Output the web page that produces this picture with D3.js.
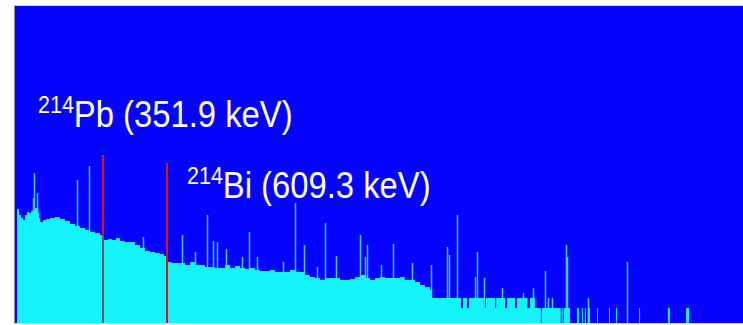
<!DOCTYPE html>
<html>
<head>
<meta charset="utf-8">
<script src="https://cdn.jsdelivr.net/npm/d3@7"></script>
<style>
  body { margin: 0; background: #fff; }
  svg { display: block; }
</style>
</head>
<body>
<svg id="chart"></svg>
<script>
// continuum of the gamma spectrum (keV, counts, drawn as steps)
var contKeV = [6, 14, 22, 30, 38, 46, 54, 62, 70, 78, 87, 91, 95, 99, 111, 123, 139, 159, 179, 199,
  219, 239, 259, 280, 300, 320, 340, 348, 356, 372, 388, 404, 420, 440, 461, 481, 501, 521, 541, 561,
  581, 597, 613, 629, 645, 662, 682, 702, 722, 742, 762, 782, 802, 822, 843, 863, 883, 903, 923, 943,
  963, 983, 1003, 1024, 1044, 1064, 1084, 1104, 1124, 1144, 1164, 1184, 1204, 1225, 1245, 1265, 1285, 1305, 1325, 1345,
  1365, 1385, 1406, 1426, 1446, 1466, 1486, 1506, 1526, 1546, 1566, 1587, 1607, 1627, 1647, 1667, 1675, 1792, 1800, 1816,
  1824, 1884, 1892, 1929, 1933, 1969, 1977, 2009, 2017, 2059, 2069, 2089, 2113, 2117, 2193, 2197, 2201, 2205, 2230, 2258,
  2266, 2278, 2282, 2290, 2294, 2302, 2310, 2339, 2343, 2387, 2391, 2415, 2419, 2508, 2512, 2624, 2632, 2697, 2709, 2926]
var contCounts = [114, 108, 105, 103, 108, 111, 110, 112, 113, 115, 114, 110, 105, 101, 103, 104, 105, 106, 104, 102,
  99, 97, 95, 93, 91, 90, 88, 87, 83, 84, 83, 85, 82, 81, 81, 78, 75, 72, 71, 70,
  69, 67, 61, 60, 60, 60, 58, 61, 58, 58, 56, 56, 55, 55, 58, 55, 57, 55, 54, 55,
  53, 52, 52, 53, 51, 51, 51, 53, 51, 51, 48, 46, 45, 43, 45, 45, 45, 43, 43, 44,
  46, 48, 45, 43, 45, 46, 45, 45, 45, 46, 43, 43, 41, 38, 36, 33, 25, 15, 25, 15,
  25, 15, 25, 15, 25, 15, 25, 15, 25, 15, 25, 15, 0, 15, 0, 15, 0, 15, 0, 15,
  0, 15, 0, 15, 0, 15, 0, 15, 0, 15, 0, 15, 0, 15, 0, 15, 0, 15, 0, 0]

// narrow photopeaks standing above the continuum
var peakKeV = [70, 76, 86, 246, 297, 512, 668, 722, 770, 793, 812, 845, 910, 939, 972, 1077, 1124, 1162, 1214, 1245,
  1288, 1386, 1406, 1415, 1470, 1517, 1594, 1670, 1737, 1744, 1775, 1848, 1857, 1884, 1955, 2041, 2083, 2130, 2143, 2157,
  2214, 2220, 2301, 2458]
var peakCounts = [125, 150, 130, 143, 157, 86, 88, 71, 108, 82, 81, 74, 66, 91, 66, 61, 120, 78, 56, 100,
  67, 88, 66, 78, 58, 79, 60, 58, 76, 68, 108, 46, 71, 45, 35, 30, 35, 52, 25, 25,
  78, 66, 25, 61]

// marked lines
var lineKeV = [351.9, 609.3]
var lineTop = [168, 160]
var massNumber = ['214', '214']
var lineLabel = ['Pb (351.9 keV)', 'Bi (609.3 keV)']

var W = 743, H = 325
var plot = { l: 15, t: 6, r: 743, b: 323 }

var svg = d3.select('#chart').attr('width', W).attr('height', H)

var x = d3.scaleLinear().domain([0, 2926]).range([15.5, 743])
var y = d3.scaleLinear().domain([0, 318]).range([323, 5])

// frame + blue background
svg.append('rect')
  .attr('x', plot.l).attr('y', plot.t)
  .attr('width', plot.r - plot.l).attr('height', plot.b - plot.t)
  .attr('fill', '#0404fc')
svg.append('line').attr('x1', plot.l).attr('x2', W).attr('y1', 5.5).attr('y2', 5.5)
  .attr('stroke', '#d4d4e4')
svg.append('line').attr('x1', 14.5).attr('x2', 14.5).attr('y1', 5).attr('y2', 324)
  .attr('stroke', '#8c8cac')
svg.append('line').attr('x1', plot.l).attr('x2', W).attr('y1', 323.5).attr('y2', 323.5)
  .attr('stroke', '#b8eef4')

var cont = contKeV.map(function (e, i) { return { e: e, c: contCounts[i] } })
var peaks = peakKeV.map(function (e, i) { return { e: e, c: peakCounts[i] } })

// peaks first, the continuum covers their lower part
svg.selectAll('rect.peak')
  .data(peaks)
  .join('rect')
  .attr('class', 'peak')
  .attr('x', d => Math.round(x(d.e)) - 0.25)
  .attr('y', d => y(d.c))
  .attr('width', 1.5)
  .attr('height', d => y(0) - y(d.c))
  .attr('fill', '#44c8f2')

var area = d3.area()
  .curve(d3.curveStepAfter)
  .x(d => x(d.e))
  .y0(y(0))
  .y1(d => y(d.c))

svg.append('path')
  .datum(cont)
  .attr('d', area)
  .attr('fill', '#14f2fa')

// level of the continuum at an energy (for the marker lines)
var bis = d3.bisector(d => d.e).right
function contAt(e) { return cont[Math.max(0, bis(cont, e) - 1)].c }

lineKeV.forEach(function (e, i) {
  var xx = Math.round(x(e))
  svg.append('line')
    .attr('x1', xx).attr('x2', xx)
    .attr('y1', y(lineTop[i])).attr('y2', y(0))
    .attr('stroke', '#dc1414').attr('stroke-width', 2)
  if (i === 0) {
    svg.append('line')
      .attr('x1', xx).attr('x2', xx)
      .attr('y1', y(contAt(e))).attr('y2', y(0))
      .attr('stroke', '#5a5a66').attr('stroke-width', 2)
  }
})

// labels
var labelPos = [[38, 127], [187, 198]]
labelPos.forEach(function (p, i) {
  var t = svg.append('text')
    .attr('transform', 'translate(' + p[0] + ',' + p[1] + ') scale(1,1.12)')
    .attr('font-family', 'Liberation Sans, Arial, sans-serif')
    .attr('fill', '#fff')
  t.append('tspan').attr('font-size', 21.5).attr('dy', -12.5).text(massNumber[i])
  t.append('tspan').attr('font-size', 32.8).attr('dy', 12.5).text(lineLabel[i])
})
</script>
</body>
</html>
